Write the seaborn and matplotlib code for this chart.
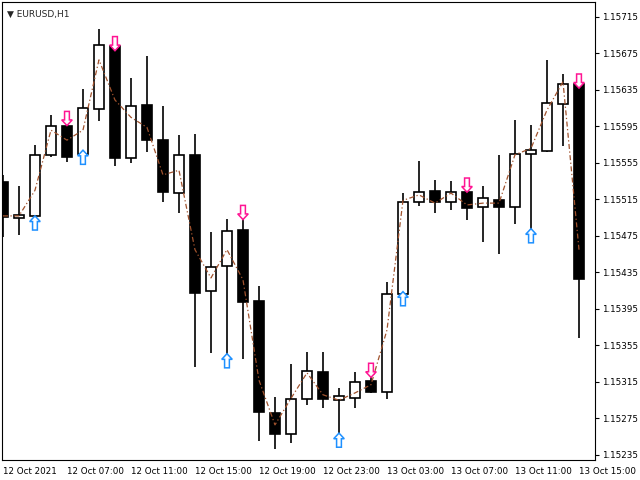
import numpy as np
import pandas as pd
import seaborn as sns
import matplotlib.pyplot as plt
from matplotlib.patches import Polygon

# EURUSD H1, 12 Oct 2021 03:00 .. 13 Oct 2021 15:00
opens  = [1.15534, 1.15495, 1.15497, 1.15564, 1.15596, 1.15565, 1.15614, 1.15683, 1.15560, 1.15619,
          1.15580, 1.15522, 1.15564, 1.15415, 1.15442, 1.15482, 1.15404, 1.15281, 1.15258, 1.15296,
          1.15326, 1.15295, 1.15297, 1.15316, 1.15304, 1.15411, 1.15512, 1.15524, 1.15512, 1.15523,
          1.15507, 1.15514, 1.15507, 1.15565, 1.15568, 1.15620, 1.15642]
highs  = [1.15542, 1.15530, 1.15575, 1.15608, 1.15603, 1.15636, 1.15702, 1.15685, 1.15648, 1.15672,
          1.15617, 1.15586, 1.15587, 1.15479, 1.15494, 1.15500, 1.15420, 1.15299, 1.15335, 1.15348,
          1.15348, 1.15308, 1.15326, 1.15328, 1.15425, 1.15522, 1.15557, 1.15536, 1.15535, 1.15531,
          1.15530, 1.15564, 1.15602, 1.15597, 1.15668, 1.15653, 1.15644]
lows   = [1.15474, 1.15476, 1.15489, 1.15562, 1.15556, 1.15563, 1.15601, 1.15552, 1.15555, 1.15567,
          1.15512, 1.15500, 1.15331, 1.15347, 1.15345, 1.15340, 1.15250, 1.15242, 1.15248, 1.15290,
          1.15286, 1.15251, 1.15286, 1.15303, 1.15296, 1.15407, 1.15508, 1.15500, 1.15503, 1.15493,
          1.15468, 1.15455, 1.15488, 1.15479, 1.15567, 1.15574, 1.15363]
closes = [1.15496, 1.15498, 1.15564, 1.15596, 1.15562, 1.15615, 1.15684, 1.15560, 1.15617, 1.15580,
          1.15523, 1.15564, 1.15413, 1.15441, 1.15480, 1.15403, 1.15282, 1.15258, 1.15296, 1.15327,
          1.15296, 1.15300, 1.15315, 1.15304, 1.15411, 1.15512, 1.15523, 1.15512, 1.15523, 1.15506,
          1.15517, 1.15507, 1.15565, 1.15569, 1.15621, 1.15642, 1.15428]
trend  = [1.15497, 1.15497, 1.15525, 1.15591, 1.15580, 1.15591, 1.15668, 1.15624, 1.15605, 1.15594,
          1.15542, 1.15547, 1.15460, 1.15429, 1.15460, 1.15427, 1.15317, 1.15268, 1.15297, 1.15325,
          1.15301, 1.15295, 1.15303, 1.15312, 1.15372, 1.15514, 1.15520, 1.15511, 1.15522, 1.15509,
          1.15511, 1.15511, 1.15564, 1.15571, 1.15613, 1.15644, 1.15460]
sell_idx = [4, 7, 15, 23, 29, 36]
sell_px  = [1.15596, 1.15678, 1.15493, 1.15320, 1.15523, 1.15637]
buy_idx  = [2, 5, 14, 21, 25, 33]
buy_px   = [1.15497, 1.15569, 1.15346, 1.15259, 1.15414, 1.15483]
y_ticks  = [1.15235, 1.15275, 1.15315, 1.15355, 1.15395, 1.15435, 1.15475, 1.15515, 1.15555, 1.15595,
            1.15635, 1.15675, 1.15715]
x_labels = ["12 Oct 2021", "12 Oct 07:00", "12 Oct 11:00", "12 Oct 15:00", "12 Oct 19:00",
            "12 Oct 23:00", "13 Oct 03:00", "13 Oct 07:00", "13 Oct 11:00", "13 Oct 15:00"]

df = pd.DataFrame({"i": np.arange(len(opens)), "open": opens, "high": highs,
                   "low": lows, "close": closes, "trend": trend})

sns.set_style("white")
plt.rcParams['font.family'] = ['DejaVu Sans']
fig = plt.figure(figsize=(6.4, 4.8), dpi=100)
ax = fig.add_axes([2/640, 20/480, 593/640, 458/480])

# wicks
ax.vlines(df["i"], df["low"], df["high"], color="black", lw=1.2, zorder=2)
# bodies
up = df["close"] >= df["open"]
bottoms = np.minimum(df["open"], df["close"])
heights = np.maximum(np.abs(df["close"] - df["open"]), 0.000025)
ax.bar(df["i"][up], heights[up], bottom=bottoms[up], width=0.62, color="white",
       edgecolor="black", lw=1.2, zorder=3)
ax.bar(df["i"][~up], heights[~up], bottom=bottoms[~up], width=0.62, color="black",
       edgecolor="black", lw=1.2, zorder=3)

sns.lineplot(data=df, x="i", y="trend", ax=ax, color="#a0522d", lw=0.9,
             linestyle=(0, (4, 2, 1, 2)), zorder=4)

# signal arrows (hollow)
ah = 0.000155
def arrow(x, tip, down, col):
    d = 1 if down else -1
    pts = [(x, tip), (x - 0.33, tip + d * ah * 0.4), (x - 0.15, tip + d * ah * 0.4),
           (x - 0.15, tip + d * ah), (x + 0.15, tip + d * ah), (x + 0.15, tip + d * ah * 0.4),
           (x + 0.33, tip + d * ah * 0.4)]
    ax.add_patch(Polygon(pts, closed=True, facecolor="white", edgecolor=col, lw=1.1, zorder=5))
for i, p in zip(sell_idx, sell_px):
    arrow(i, p, True, "#ff1493")
for i, p in zip(buy_idx, buy_px):
    arrow(i, p, False, "#1e90ff")

ax.set_xlim(-0.06, 37.0)
ax.set_ylim(1.152295, 1.157314)
ax.yaxis.tick_right()
ax.set_yticks(y_ticks)
ax.set_yticklabels([f"{v:.5f}" for v in y_ticks], fontsize=6.3)
ax.set_xticks(range(0, 37, 4))
ax.set_xticklabels(x_labels, fontsize=6.3, ha="left")
ax.tick_params(length=3, width=0.8, colors="black", pad=2)
for lbl in ax.get_xticklabels():
    lbl.set_x(lbl.get_position()[0])
ax.set_xlabel("")
ax.set_ylabel("")
for s in ax.spines.values():
    s.set_color("black")
    s.set_linewidth(0.8)
ax.text(0.008, 0.982, "\u25bc EURUSD,H1", transform=ax.transAxes, fontsize=6.5, va="top")

fig.savefig("out.png", dpi=100)
